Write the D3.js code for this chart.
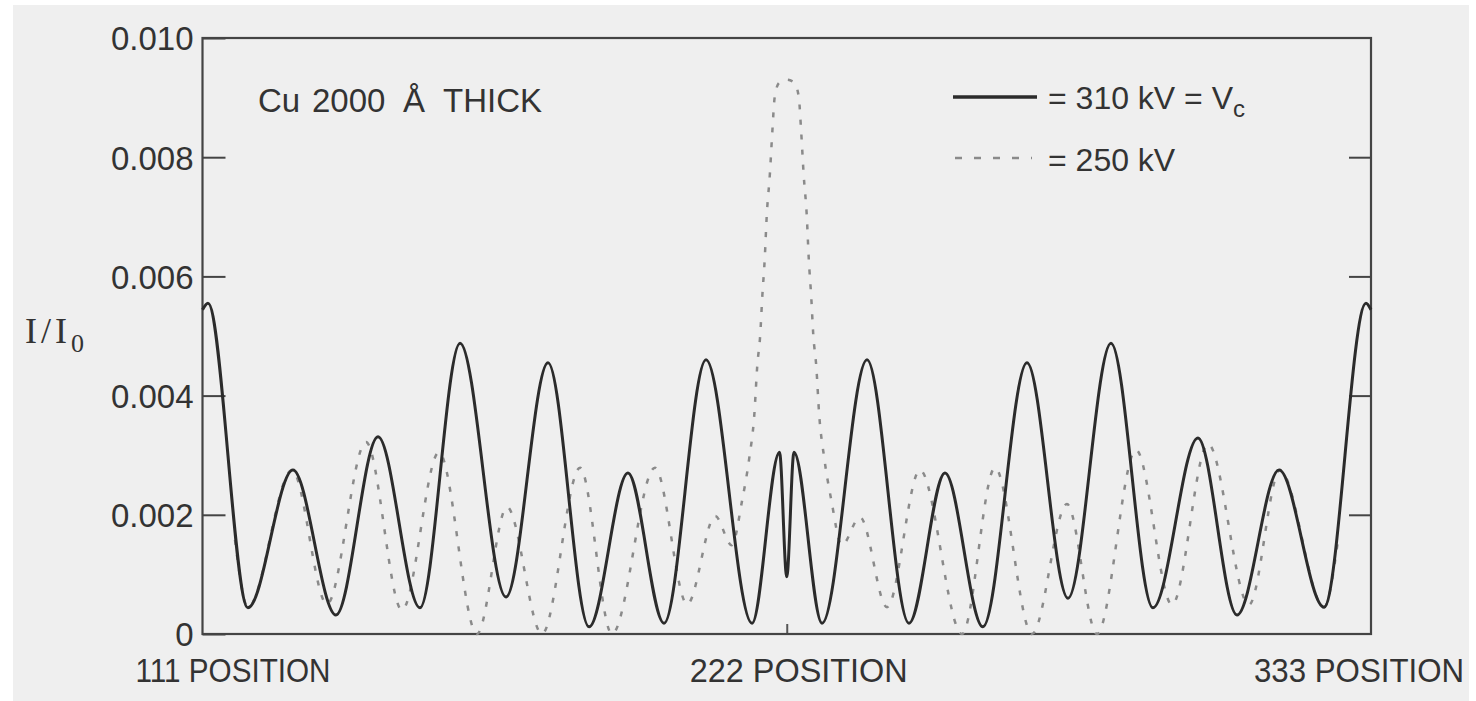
<!DOCTYPE html>
<html>
<head>
<meta charset="utf-8">
<script src="https://cdn.jsdelivr.net/npm/d3@7"></script>
<style>
    body { margin: 0; background: #ffffff; }
    svg text { font-family: "Liberation Sans", Arial, sans-serif; fill: #333; }
</style>
</head>
<body>
<div id="chart"></div>
<script>

// x runs 0..100 from the 111 position to the 333 position, 222 sits at 50
// values as [position, I/I0]
const solid310 = [
    [0, 0.00544], [0.47, 0.00555], [3.89, 0.00044], [7.74, 0.00275], [11.42, 0.00032],
    [15.02, 0.00331], [18.61, 0.00044], [22.04, 0.00488], [25.97, 0.00062], [29.57, 0.00455],
    [33.08, 0.00012], [36.41, 0.00270], [39.50, 0.00018], [43.09, 0.00460], [47.03, 0.00018],
    [49.38, 0.00305], [50, 0.00096], [50.62, 0.00305], [53.02, 0.00018], [56.87, 0.00460],
    [60.46, 0.00018], [63.54, 0.00270], [66.79, 0.00012], [70.56, 0.00455], [74.07, 0.00060],
    [77.75, 0.00488], [81.34, 0.00044], [85.19, 0.00329], [88.53, 0.00032], [92.13, 0.00275],
    [95.98, 0.00045], [99.57, 0.00555], [100, 0.00544]
];

const dashed250 = [
    [2.78, 0.00158], [3.89, 0.00045], [7.66, 0.00275], [10.65, 0.00050], [13.99, 0.00322],
    [17.07, 0.00040], [20.24, 0.00305], [23.49, 0.0], [26.06, 0.00213], [29.05, 0.0],
    [32.31, 0.00279], [35.04, 0.0], [38.72, 0.00279], [41.48, 0.00050], [43.88, 0.00198],
    [45.29, 0.00149], [46.19, 0.00225], [46.79, 0.00295], [47.22, 0.00367], [47.48, 0.00451],
    [47.73, 0.00502], [47.90, 0.00564], [48.12, 0.00631], [48.29, 0.00703], [48.55, 0.00770],
    [48.76, 0.00841], [48.97, 0.00901], [49.35, 0.00925], [50, 0.00930], [50.65, 0.00925],
    [51.03, 0.00901], [51.24, 0.00841], [51.45, 0.00770], [51.71, 0.00703], [51.88, 0.00631],
    [52.10, 0.00564], [52.27, 0.00502], [52.52, 0.00451], [52.78, 0.00367], [53.21, 0.00295],
    [53.81, 0.00225], [54.71, 0.00149], [56.27, 0.00196], [58.58, 0.00045], [61.40, 0.00275],
    [65.00, 0.0], [67.82, 0.00279], [70.99, 0.0], [73.98, 0.00218], [76.55, 0.0],
    [79.89, 0.00309], [82.97, 0.00049], [86.05, 0.00319], [89.56, 0.00049], [92.21, 0.00275],
    [95.98, 0.00045], [97.18, 0.00158]
];

const yTicks = [0, 0.002, 0.004, 0.006, 0.008, 0.010];
const innerTicks = [0.002, 0.004, 0.006, 0.008];
const posAt = [0, 50, 100];
const posLabels = ["111 POSITION", "222 POSITION", "333 POSITION"];
const legendLabels = ["= 310 kV = V", "= 250 kV"];

let width = 1476, height = 701;
let plot = {left: 202.5, right: 1371, top: 38, bottom: 634};

let svg = d3.select("#chart")
    .append("svg")
    .attr("width", width)
    .attr("height", height);

// paper
svg.append("rect")
    .attr("x", 13).attr("y", 5)
    .attr("width", 1456).attr("height", 696)
    .attr("fill", "#efefef");

let x = d3.scaleLinear().domain([0, 100]).range([plot.left, plot.right]);
let y = d3.scaleLinear().domain([0, 0.010]).range([plot.bottom, plot.top]);

// left axis, ticks point inwards
let yAxis = d3.axisLeft(y)
    .tickValues(yTicks)
    .tickSize(-23)
    .tickPadding(9)
    .tickFormat(d => d === 0 ? "0" : d3.format(".3f")(d));

let gy = svg.append("g")
    .attr("transform", "translate(" + plot.left + ",0)")
    .call(yAxis);
gy.selectAll("text")
    .style("font-size", "33px")
    .attr("dy", "0.36em");
gy.selectAll(".tick line").attr("stroke", "#444").attr("stroke-width", 2);
gy.select(".domain").remove();

// right axis, no labels
let gr = svg.append("g")
    .attr("transform", "translate(" + plot.right + ",0)")
    .call(d3.axisRight(y).tickValues(innerTicks).tickSize(-22).tickFormat(""));
gr.selectAll(".tick line").attr("stroke", "#444").attr("stroke-width", 2);
gr.select(".domain").remove();

// bottom: just a small mark at 222
let gx = svg.append("g")
    .attr("transform", "translate(0," + plot.bottom + ")")
    .call(d3.axisBottom(x).tickValues([50]).tickSize(-10).tickFormat(""));
gx.selectAll(".tick line").attr("stroke", "#555").attr("stroke-width", 2);
gx.select(".domain").remove();

// frame
svg.append("rect")
    .attr("x", plot.left).attr("y", plot.top)
    .attr("width", plot.right - plot.left)
    .attr("height", plot.bottom - plot.top)
    .attr("fill", "none")
    .attr("stroke", "#444")
    .attr("stroke-width", 2.2);

// position labels under the axis
let anchors = ["start", "middle", "end"];
let shifts = [-67, 12, 93];
let widths = [195, 218, 210];
svg.append("g")
    .selectAll("text")
    .data(posLabels)
    .enter().append("text")
    .attr("x", (d, i) => x(posAt[i]) + shifts[i])
    .attr("y", 682)
    .attr("text-anchor", (d, i) => anchors[i])
    .attr("textLength", (d, i) => widths[i])
    .attr("lengthAdjust", "spacingAndGlyphs")
    .style("font-size", "33px")
    .text(d => d);

// y label I/I0
let ylab = svg.append("text")
    .attr("x", 25)
    .attr("y", 343)
    .style("font-family", "'Liberation Serif', 'DejaVu Serif', serif")
    .style("font-size", "36px")
    .style("letter-spacing", "4px");
ylab.append("tspan").text("I/I");
ylab.append("tspan").attr("dy", 9).style("font-size", "26px").text("0");

// sample note
let note = svg.append("text")
    .attr("y", 112)
    .style("font-size", "33px");
note.append("tspan").attr("x", 258).text("Cu");
note.append("tspan").attr("x", 312).text("2000");
note.append("tspan").attr("x", 403).text("Å");
note.append("tspan").attr("x", 443).text("THICK");

// curves
let line = d3.line()
    .x(d => x(d[0]))
    .y(d => y(d[1]))
    .curve(d3.curveMonotoneX);

svg.append("path")
    .datum(dashed250)
    .attr("d", line)
    .attr("fill", "none")
    .attr("stroke", "#8a8a8a")
    .attr("stroke-width", 2.5)
    .attr("stroke-dasharray", "5,10");

svg.append("path")
    .datum(solid310)
    .attr("d", line)
    .attr("fill", "none")
    .attr("stroke", "#2b2b2b")
    .attr("stroke-width", 3);

// legend
let leg = svg.append("g");
leg.append("line")
    .attr("x1", 953).attr("x2", 1037)
    .attr("y1", 97).attr("y2", 97)
    .attr("stroke", "#2b2b2b").attr("stroke-width", 3.5);
leg.append("line")
    .attr("x1", 955).attr("x2", 1032)
    .attr("y1", 158).attr("y2", 158)
    .attr("stroke", "#8a8a8a").attr("stroke-width", 2.5)
    .attr("stroke-dasharray", "7,12");

let l1 = leg.append("text")
    .attr("x", 1048).attr("y", 109)
    .style("font-size", "32px");
l1.append("tspan").text(legendLabels[0]);
l1.append("tspan").attr("dy", 8).style("font-size", "24px").text("c");

leg.append("text")
    .attr("x", 1048).attr("y", 171)
    .style("font-size", "32px")
    .text(legendLabels[1]);

</script>
</body>
</html>
